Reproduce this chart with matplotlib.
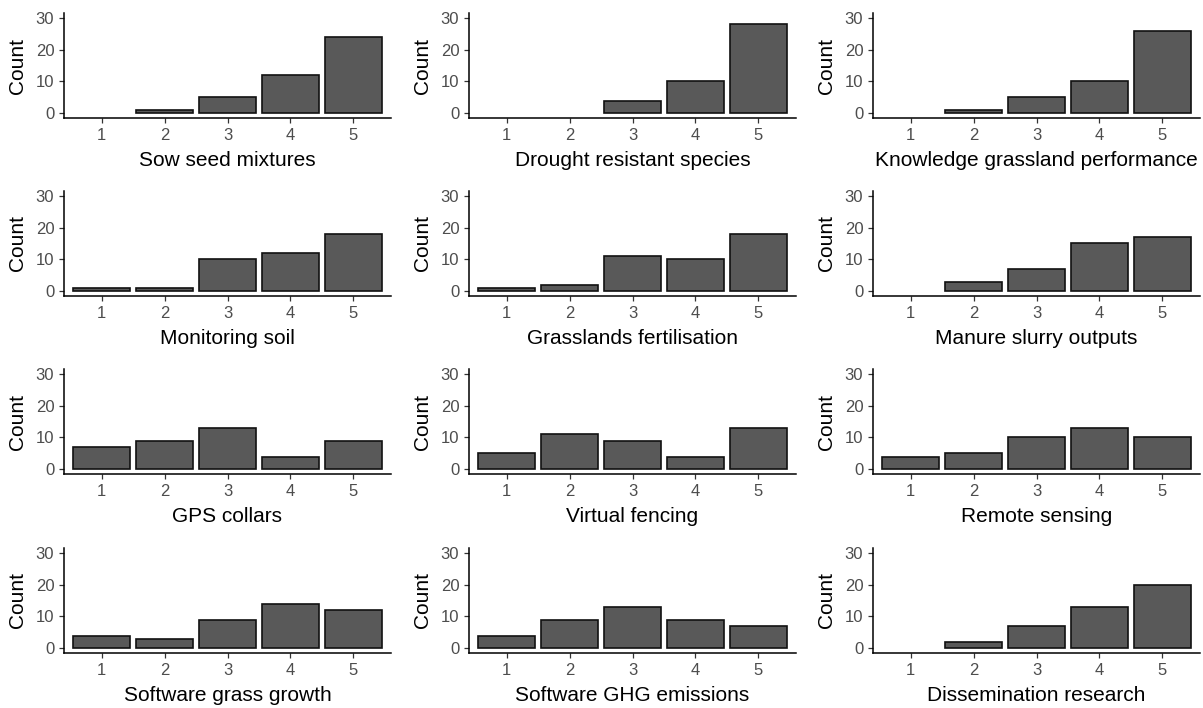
import numpy as np
import matplotlib
matplotlib.use("Agg")
import matplotlib.pyplot as plt

plt.rcParams['font.family'] = ['Liberation Sans', 'DejaVu Sans']

# rating levels on the x axis
levels = [1, 2, 3, 4, 5]

# panel titles, row by row
titles = [
    "Sow seed mixtures", "Drought resistant species", "Knowledge grassland performance",
    "Monitoring soil", "Grasslands fertilisation", "Manure slurry outputs",
    "GPS collars", "Virtual fencing", "Remote sensing",
    "Software grass growth", "Software GHG emissions", "Dissemination research",
]

# counts per rating
sow_seed = [0, 1, 5, 12, 24]
drought = [0, 0, 4, 10, 28]
knowledge = [0, 1, 5, 10, 26]
monitoring_soil = [1, 1, 10, 12, 18]
fertilisation = [1, 2, 11, 10, 18]
manure = [0, 3, 7, 15, 17]
gps = [7, 9, 13, 4, 9]
fencing = [5, 11, 9, 4, 13]
remote = [4, 5, 10, 13, 10]
grass_growth = [4, 3, 9, 14, 12]
ghg = [4, 9, 13, 9, 7]
dissemination = [0, 2, 7, 13, 20]

counts = [sow_seed, drought, knowledge, monitoring_soil, fertilisation, manure,
          gps, fencing, remote, grass_growth, ghg, dissemination]

W, H = 1203, 708
fig = plt.figure(figsize=(W / 100, H / 100), dpi=100)

# panel boxes in pixels
col_left = [64, 469, 873]
ax_w = 327
row_top = [13, 191, 369, 548]
ax_h = 105

for i, (title, vals) in enumerate(zip(titles, counts)):
    r, c = divmod(i, 3)
    ax = fig.add_axes([col_left[c] / W, 1 - (row_top[r] + ax_h) / H, ax_w / W, ax_h / H])
    x = np.array(levels)
    v = np.array(vals)
    keep = v > 0  # empty ratings get no bar at all
    ax.bar(x[keep], v[keep], width=0.9, color="#595959", edgecolor="#111111", linewidth=1.2)
    ax.set_xlim(0.4, 5.6)
    ax.set_ylim(-1.5, 31.5)
    ax.set_xticks(levels)
    ax.set_yticks([0, 10, 20, 30])
    ax.spines["top"].set_visible(False)
    ax.spines["right"].set_visible(False)
    ax.spines["left"].set_linewidth(1.1)
    ax.spines["bottom"].set_linewidth(1.1)
    ax.tick_params(length=3.5, width=0.9, color="#333333", labelcolor="#4D4D4D",
                   labelsize=12, pad=3.5)
    ax.set_xlabel(title, fontsize=15, labelpad=6)
    ax.set_ylabel("Count", fontsize=15, labelpad=6)

fig.savefig("out.png", dpi=100)
